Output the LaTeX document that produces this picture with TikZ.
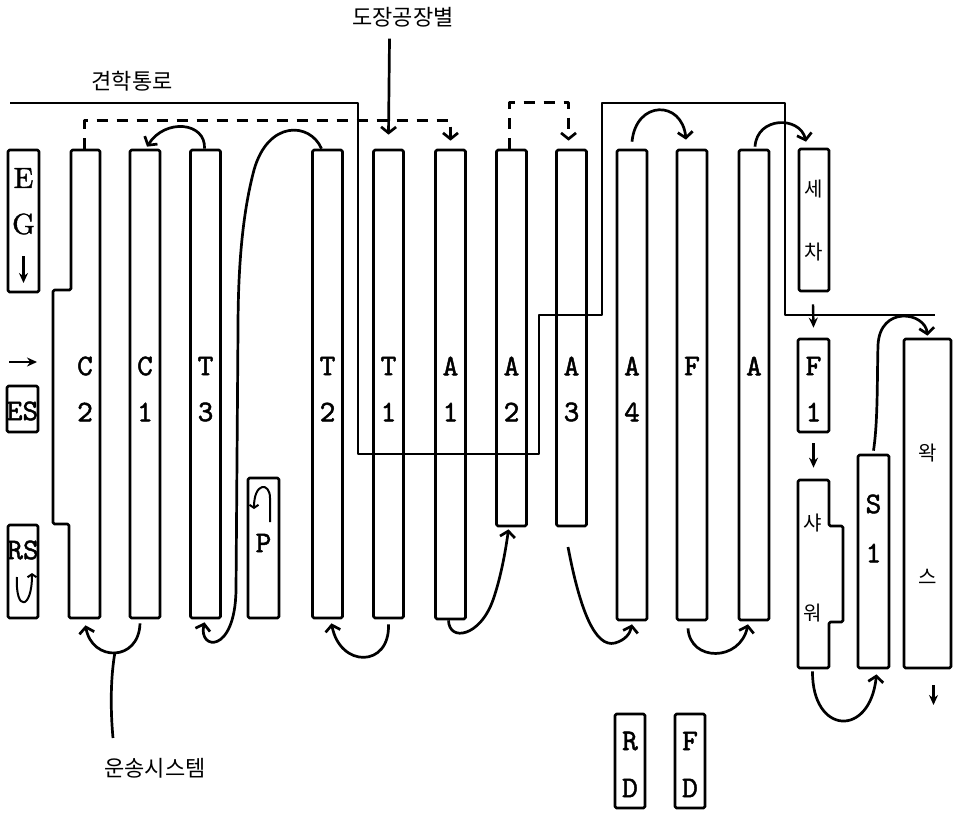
\documentclass[tikz,border=0pt]{standalone}
\usepackage{fontspec}
\newfontfamily\kr{Noto Sans CJK KR}
\newfontfamily\tw{lmmono10-regular.otf}[FakeBold=1.6]
\newfontfamily\rw{lmroman10-regular.otf}[FakeBold=1.4]
\usetikzlibrary{arrows.meta,calc}
\begin{document}
\begin{tikzpicture}[x=1pt,y=-1pt,
  line width=2.7pt, line join=round,
  bar/.style={draw, rounded corners=1.5pt, inner sep=0pt, minimum width=30pt},
  ghost/.style={inner sep=0pt, minimum width=31pt},
  lbl/.style={font=\fontsize{30}{30}\selectfont\tw, inner sep=0pt},
  rlbl/.style={font=\fontsize{29}{29}\selectfont\rw, inner sep=0pt},
  kor/.style={font=\fontsize{20}{20}\selectfont\kr, inner sep=0pt},
  kort/.style={font=\fontsize{22}{22}\selectfont\kr, inner sep=0pt},
  flow/.style={-{Straight Barb[length=6pt,width=15pt]}},
  dashline/.style={dash pattern=on 11pt off 9pt},
  tick/.style={-{Stealth[length=10pt,width=9pt]}, line width=2.4pt}
]
\useasboundingbox (0,0) rectangle (955,812);

% ---- corridor line
\draw (10,103) -- (358,103) -- (358,454) -- (539,454) -- (539,315) -- (602,315)
      -- (602,103) -- (785,103) -- (785,315) -- (935,315);

% ---- titles
\node[kort] (ttop) at (403,17) {도장공장별};
\node[kort] (tcor) at (132,81) {견학통로};
\node[kort] (tbot) at (155,768) {운송시스템};

% ---- left boxes
\node[bar, minimum width=31pt, minimum height=142pt] (EG) at (23.5,221) {};
\node[rlbl] (EGe) at (23.5,178) {E};
\node[rlbl] (EGg) at (23.5,224) {G};
\coordinate (eg1) at (23.5,256);
\coordinate (eg2) at (23.5,283);
\draw[tick] (eg1) -- (eg2);
\coordinate (la1) at (9,362);
\coordinate (la2) at (37,362);
\draw[tick] (la1) -- (la2);
\node[bar, minimum width=31pt, minimum height=46pt] (ES) at (22.5,409) {};
\node[lbl] (ESt) at (22.5,411) {ES};
\node[bar, minimum width=30pt, minimum height=93pt] (RS) at (23,571.5) {};
\node[lbl] (RSt) at (23,550) {RS};
\coordinate (rs1) at (17,577);
\coordinate (rs2) at (32,573);
\draw[-{Straight Barb[length=3pt,width=9pt]}, line width=2pt]
  (rs1) .. controls (15,612) and (32,610) .. (rs2);

% ---- C2 (stepped outline)
\draw[rounded corners=1.5pt] (71,150) -- (100,150) -- (100,618) -- (69,618)
   -- (69,524) -- (53,524) -- (53,290) -- (71,290) -- cycle;
\node[ghost, minimum height=468pt] (C2) at (84.5,384) {};

% ---- bars
\node[bar, minimum height=468pt] (C1) at (145,384) {};
\node[bar, minimum height=468pt] (T3) at (205.5,384) {};
\node[bar, minimum height=468pt] (T2) at (327.5,384) {};
\node[bar, minimum height=468pt] (T1) at (388.5,384) {};
\node[bar, minimum height=469pt] (A1) at (450.5,384.5) {};
\node[bar, minimum height=376pt] (A2) at (511.5,338) {};
\node[bar, minimum height=376pt] (A3) at (571.5,338) {};
\node[bar, minimum height=470pt] (A4) at (632,385) {};
\node[bar, minimum height=470pt] (FF) at (692,385) {};
\node[bar, minimum height=470pt] (AA) at (754,385) {};
\node[bar, minimum height=142pt] (SC) at (814,220) {};
\node[bar, minimum width=31pt, minimum height=93pt] (F1) at (813.5,385.5) {};
\node[bar, minimum width=31pt, minimum height=213pt] (S1) at (873.5,561.5) {};
\node[bar, minimum width=47pt, minimum height=329pt] (WX) at (927.5,503.5) {};
\node[bar, minimum width=31pt, minimum height=140pt] (PP) at (263.5,548) {};
\node[bar, minimum height=94pt] (RD) at (630,761) {};
\node[bar, minimum height=94pt] (FD) at (690,761) {};

% ---- shower (stepped outline)
\draw[rounded corners=1.5pt] (798,480) -- (829,480) -- (829,526) -- (843,526)
   -- (843,622) -- (829,622) -- (829,668) -- (798,668) -- cycle;
\node[ghost, minimum height=188pt] (SW) at (813.5,574) {};

% ---- bar labels
\node[lbl] (lC2a) at (85,366) {C};  \node[lbl] (lC2b) at (85,412) {2};
\node[lbl] (lC1a) at (145,366) {C}; \node[lbl] (lC1b) at (145,412) {1};
\node[lbl] (lT3a) at (205.5,366) {T}; \node[lbl] (lT3b) at (205.5,412) {3};
\node[lbl] (lT2a) at (327.5,366) {T}; \node[lbl] (lT2b) at (327.5,412) {2};
\node[lbl] (lT1a) at (388.5,366) {T}; \node[lbl] (lT1b) at (388.5,412) {1};
\node[lbl] (lA1a) at (450.5,366) {A}; \node[lbl] (lA1b) at (450.5,412) {1};
\node[lbl] (lA2a) at (511.5,366) {A}; \node[lbl] (lA2b) at (511.5,412) {2};
\node[lbl] (lA3a) at (571.5,366) {A}; \node[lbl] (lA3b) at (571.5,412) {3};
\node[lbl] (lA4a) at (632,366) {A}; \node[lbl] (lA4b) at (632,412) {4};
\node[lbl] (lFF) at (692,366) {F};
\node[lbl] (lAA) at (754,366) {A};
\node[lbl] (lF1a) at (813.5,366) {F}; \node[lbl] (lF1b) at (813.5,412) {1};
\node[lbl] (lS1a) at (873.5,504) {S}; \node[lbl] (lS1b) at (873.5,553) {1};
\node[lbl] (lP) at (263.5,543) {P};
\node[lbl] (lRDa) at (630,741) {R}; \node[lbl] (lRDb) at (630,788) {D};
\node[lbl] (lFDa) at (690,741) {F}; \node[lbl] (lFDb) at (690,788) {D};
\node[kor] (kSe) at (814,189) {세};
\node[kor] (kCha) at (814,252) {차};
\node[kor] (kSya) at (813,523) {샤};
\node[kor] (kWo) at (813,613) {워};
\node[kor] (kWa) at (927.5,453) {왁};
\node[kor] (kSeu) at (927.5,577) {스};

% ---- P hook
\coordinate (p1) at (270,522);
\coordinate (p2) at (254,509);
\draw[-{Straight Barb[length=3pt,width=9pt]}, line width=2pt]
  (p1) -- (270,498) .. controls (270,482) and (254,482) .. (p2);

% ---- dashed transfers
\draw[dashline, flow] (C2.north) -- ++(0,-28) -| ($(A1.north)+(0,-8)$);
\draw[dashline, flow] ($(A2.north)+(-2,0)$) -- ++(0,-46) -| ($(A3.north)+(-3,-8)$);

% ---- top arrow
\draw[flow] ($(T1.north)+(1,-110)$) -- ($(T1.north)+(0,-14)$);

% ---- curved transfers (top)
\draw[flow] ($(T3.north)+(-1,0)$) .. controls (206,122) and (165,118) .. ($(C1.north)+(2,-2)$);
\draw[flow] ($(T2.north)+(-6,0)$) .. controls (310,122) and (268,120) .. (254,170)
   .. controls (242,215) and (238,270) .. (238,330) -- (236,590)
   .. controls (235,655) and (198,650) .. ($(T3.south)+(-1,3)$);
\draw[flow] ($(A4.north)+(0,-7)$) .. controls (636,100) and (682,100) .. ($(FF.north)+(-6,-9)$);
\draw[flow] ($(AA.north)+(1,-2)$) .. controls (757,116) and (800,116) .. ($(SC.north)+(-8,-6)$);
\draw[flow] ($(S1.north)+(0,-3)$) .. controls (878,420) and (877,380) .. (878,345)
   .. controls (880,305) and (925,312) .. ($(WX.north)+(0,-2)$);

% ---- curved transfers (bottom)
\draw[flow] ($(C1.south)+(-5,4)$) .. controls (139,662) and (92,662) .. ($(C2.south)+(1,6)$);
\draw[flow] ($(T1.south)+(0,5)$) .. controls (390,668) and (340,668) .. ($(T2.south)+(4,4)$);
\draw[flow] ($(A1.south)+(-2,0)$) .. controls (449,642) and (480,637) .. (493,600)
   .. controls (500,580) and (505,555) .. ($(A2.south)+(-3,2)$);
\coordinate (a3out) at (568,547);
\draw[flow] (a3out) .. controls (580,610) and (595,648) .. (615,643)
   .. controls (625,640) and (630,634) .. ($(A4.south)+(0,3)$);
\draw[flow] ($(FF.south)+(-4,7)$) .. controls (690,662) and (740,662) .. ($(AA.south)+(-6,3)$);
\draw[flow] ($(SW.south)+(-1,2)$) .. controls (812,735) and (870,738) .. ($(S1.south)+(3,5)$);

% ---- small down ticks
\draw[tick] ($(SC.south)+(-1,12)$) -- ($(F1.north)+(0,-10)$);
\draw[tick] ($(F1.south)+(0,10)$) -- ($(SW.north)+(0,-11)$);
\coordinate (wxout) at (933.5,705);
\draw[tick] ($(WX.south)+(6,16)$) -- (wxout);

% ---- conveyor pointer line
\coordinate (cv1) at (113,738);
\coordinate (cv2) at (115,652);
\draw (cv1) .. controls (110,705) and (111,675) .. (cv2);
\end{tikzpicture}
\end{document}
